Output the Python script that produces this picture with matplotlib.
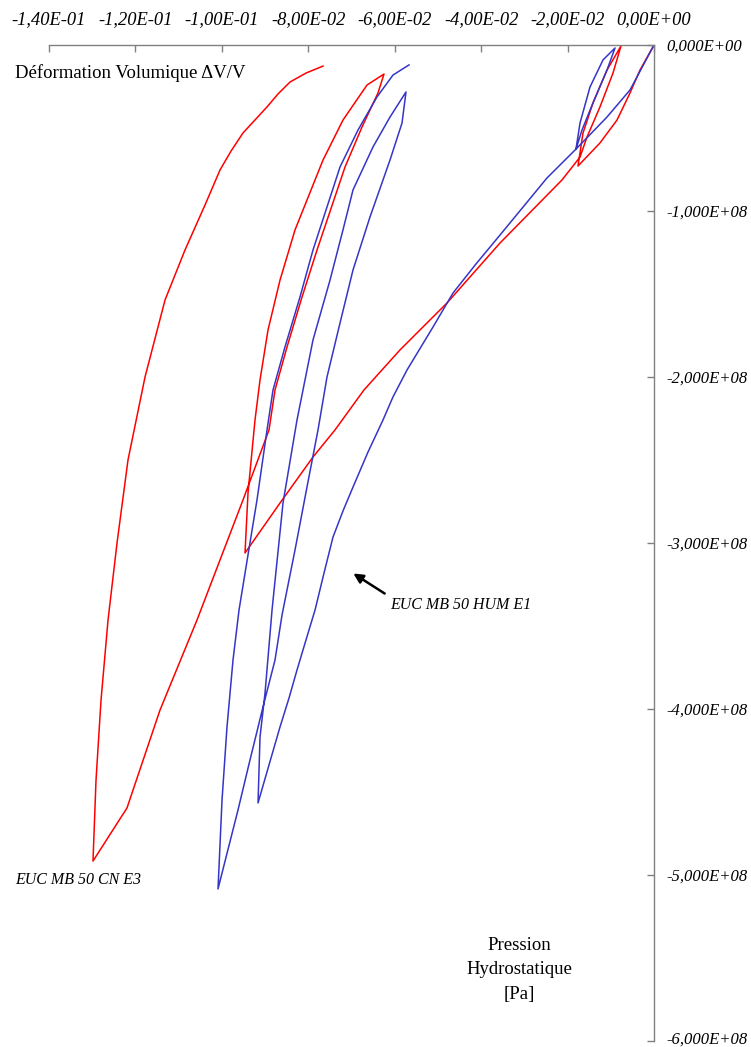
import numpy as np
import matplotlib
matplotlib.use("Agg")
import matplotlib.pyplot as plt
from matplotlib.ticker import FixedLocator, FuncFormatter
from matplotlib.transforms import ScaledTranslation

# Volumetric strain (dV/V) and hydrostatic pressure (units of 1e8 Pa)
# EUC MB 50 CN E3 : load / unload cycles
cn_strain = [
    0.0, -0.00324, -0.00555, -0.00856, -0.01250, -0.01759,
    -0.01643, -0.01412, -0.01088, -0.00764,
    -0.00949, -0.01250, -0.01550, -0.01712, -0.02129,
    -0.03564, -0.04790, -0.05878, -0.06711, -0.07382, -0.07891, -0.08654, -0.09464,
    -0.09395, -0.09233, -0.09117, -0.08932, -0.08654, -0.08307, -0.08030, -0.07659,
    -0.07197, -0.06641, -0.06248,
    -0.06387, -0.06757, -0.07150, -0.07798, -0.08145, -0.08492, -0.08770, -0.08909,
    -0.09511, -0.10575, -0.11431, -0.12195, -0.12982,
    -0.12912, -0.12796, -0.12634, -0.12426, -0.12172, -0.11778, -0.11315, -0.10853,
    -0.10390, -0.10043, -0.09788, -0.09511, -0.08955, -0.08701, -0.08423, -0.08053,
    -0.07659,
]
cn_pressure = [
    0.0, -0.151, -0.289, -0.452, -0.590, -0.729,
    -0.530, -0.349, -0.151, -0.006,
    -0.169, -0.373, -0.554, -0.675, -0.813,
    -1.193, -1.554, -1.837, -2.078, -2.319, -2.482, -2.759, -3.060,
    -2.699, -2.259, -2.018, -1.717, -1.416, -1.114, -0.934, -0.693,
    -0.452, -0.241, -0.175,
    -0.289, -0.494, -0.735, -1.235, -1.518, -1.819, -2.078, -2.319,
    -2.741, -3.464, -4.006, -4.596, -4.916,
    -4.428, -3.946, -3.464, -3.000, -2.500, -2.000, -1.536, -1.235,
    -0.964, -0.753, -0.639, -0.530, -0.373, -0.295, -0.223, -0.169,
    -0.127,
]

# EUC MB 50 HUM E1 : load / unload cycles
hum_strain = [
    0.0, -0.00555, -0.01088, -0.01712, -0.01805,
    -0.01712, -0.01481, -0.01180, -0.00902,
    -0.01088, -0.01412, -0.01666, -0.01805,
    -0.02476, -0.03564, -0.04119, -0.04651, -0.05114, -0.05716, -0.06040, -0.06271,
    -0.06618, -0.06965, -0.07197, -0.07428, -0.07636, -0.07844, -0.08053, -0.08261,
    -0.08446, -0.08654, -0.08909, -0.09163,
    -0.09117, -0.09001, -0.08839, -0.08585, -0.08261, -0.07891, -0.07497, -0.07197,
    -0.06965, -0.06502, -0.06109, -0.05739,
    -0.05831, -0.06109, -0.06572, -0.06965, -0.07266, -0.07567, -0.07775, -0.08030,
    -0.08307, -0.08608, -0.08770, -0.09048, -0.09349, -0.09626, -0.10089,
    -0.09996, -0.09881, -0.09742, -0.09603, -0.09395, -0.09187, -0.08955, -0.08816,
    -0.08539, -0.08192, -0.07891, -0.07266, -0.06849, -0.06410, -0.06040, -0.05669,
]
hum_pressure = [
    0.0, -0.271, -0.434, -0.602, -0.627,
    -0.470, -0.253, -0.090, -0.018,
    -0.151, -0.349, -0.512, -0.627,
    -0.801, -1.145, -1.319, -1.494, -1.699, -1.958, -2.120, -2.259,
    -2.452, -2.663, -2.807, -2.964, -3.181, -3.404, -3.584, -3.765,
    -3.934, -4.108, -4.337, -4.566,
    -4.169, -3.904, -3.404, -2.759, -2.259, -1.777, -1.416, -1.114,
    -0.873, -0.614, -0.434, -0.283,
    -0.470, -0.693, -1.036, -1.355, -1.675, -2.000, -2.319, -2.663,
    -3.042, -3.434, -3.705, -3.988, -4.307, -4.608, -5.084,
    -4.548, -4.108, -3.705, -3.404, -3.072, -2.741, -2.319, -2.078,
    -1.819, -1.518, -1.235, -0.735, -0.512, -0.313, -0.181, -0.120,
]

strain_ticks = [-0.14, -0.12, -0.10, -0.08, -0.06, -0.04, -0.02, 0.0]
pressure_ticks = [0.0, -1e8, -2e8, -3e8, -4e8, -5e8, -6e8]

SERIF = ["Liberation Serif", "DejaVu Serif"]
plt.rcParams["font.family"] = SERIF

RED = "#ff0000"
BLUE = "#3535c8"
W, H = 751, 1047


def sci_comma(value, decimals):
    if value == 0:
        mant, expo = 0.0, 0
    else:
        expo = int(np.floor(np.log10(abs(value))))
        mant = value / 10 ** expo
    sign = "+" if expo >= 0 else "-"
    txt = f"{mant:.{decimals}f}".replace(".", ",")
    return f"{txt}E{sign}{abs(expo):02d}"


fig = plt.figure(figsize=(W / 100, H / 100), dpi=100)
ax = fig.add_axes([49 / W, 6 / H, 605 / W, 996 / H])

ax.plot(cn_strain, np.array(cn_pressure) * 1e8, color=RED, lw=1.1,
        solid_joinstyle="round")
ax.plot(hum_strain, np.array(hum_pressure) * 1e8, color=BLUE, lw=1.1,
        solid_joinstyle="round")

ax.set_xlim(-0.14, 0.0)
ax.set_ylim(-6e8, 0.0)

for side in ("left", "bottom"):
    ax.spines[side].set_visible(False)
for side in ("top", "right"):
    ax.spines[side].set_color("#808080")
    ax.spines[side].set_linewidth(1.0)

ax.xaxis.set_ticks_position("top")
ax.yaxis.set_ticks_position("right")
ax.xaxis.set_major_locator(FixedLocator(strain_ticks))
ax.yaxis.set_major_locator(FixedLocator(pressure_ticks))
ax.xaxis.set_major_formatter(FuncFormatter(lambda v, p: sci_comma(v, 2)))
ax.yaxis.set_major_formatter(FuncFormatter(lambda v, p: sci_comma(v, 3)))
ax.tick_params(axis="x", direction="in", length=5, width=1, color="#808080",
               pad=12.5, labelsize=13.3)
ax.tick_params(axis="y", direction="in", length=5, width=1, color="#808080",
               pad=9, labelsize=12)

fig.canvas.draw()
for lab in ax.get_xticklabels() + ax.get_yticklabels():
    lab.set_fontstyle("italic")
# keep the lowest pressure label inside the figure
ylabs = ax.get_yticklabels()
ylabs[-1].set_transform(ylabs[-1].get_transform()
                        + ScaledTranslation(0, 3 / 100, fig.dpi_scale_trans))

fig.text(15 / W, 1 - 73 / H, "Déformation Volumique \u0394V/V",
         fontsize=13.5, va="center", ha="left")
fig.text(15 / W, 1 - 880 / H, "EUC MB 50 CN E3", fontsize=11.5,
         style="italic", va="center", ha="left")
fig.text(390 / W, 1 - 605 / H, "EUC MB 50 HUM E1", fontsize=11.5,
         style="italic", va="center", ha="left")
fig.text(519 / W, 1 - 970 / H, "Pression\nHydrostatique\n[Pa]", fontsize=13.5,
         va="center", ha="center", linespacing=1.6)

ax.annotate("", xy=(351 / W, 1 - 572 / H), xytext=(387 / W, 1 - 595 / H),
            xycoords="figure fraction", textcoords="figure fraction",
            arrowprops=dict(arrowstyle="-|>", color="black", lw=1.8,
                            mutation_scale=14))

fig.savefig("out.png", dpi=100)
